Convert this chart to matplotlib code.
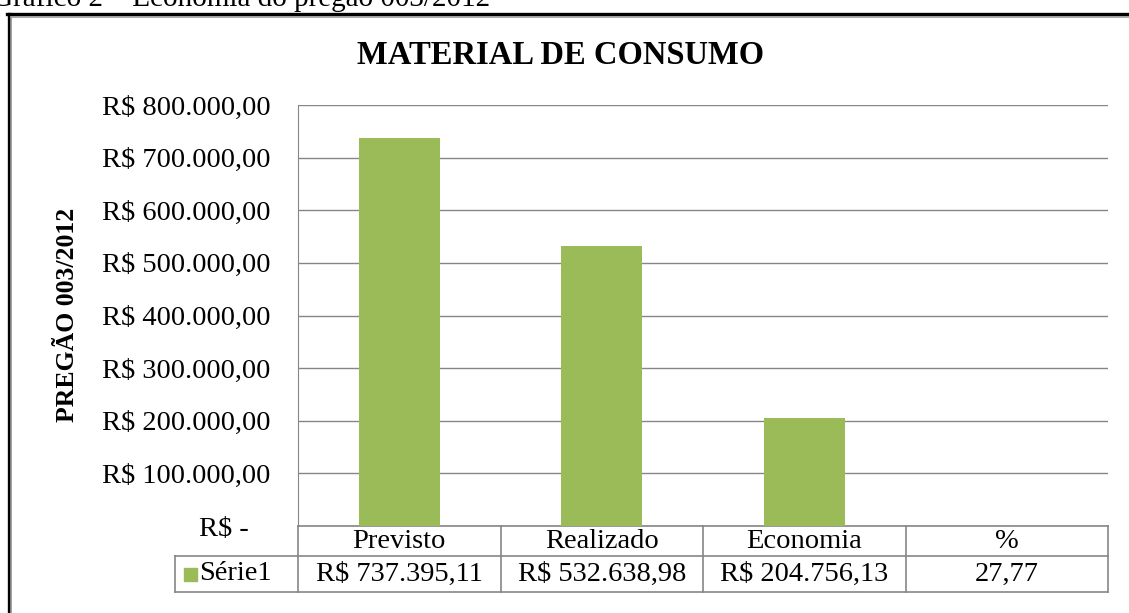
import matplotlib
matplotlib.use('Agg')
import matplotlib.pyplot as plt
from matplotlib.patches import Rectangle
from matplotlib.lines import Line2D

categories = ['Previsto', 'Realizado', 'Economia', '%']
values = [737395.11, 532638.98, 204756.13, 27.77]
series_name = 'Série1'
yticks = [0, 100000, 200000, 300000, 400000, 500000, 600000, 700000, 800000]

green = '#9BBB59'
grid_gray = '#868686'
fs = 20.5
plt.rcParams['font.family'] = ['Liberation Serif', 'DejaVu Serif']


def brl(v):
    if v == 0:
        return 'R$ -   '
    s = f'{v:,.2f}'.replace(',', 'X').replace('.', ',').replace('X', '.')
    return 'R$ ' + s


def cell_text(cat, v):
    if cat == '%':
        return f'{v:.2f}'.replace('.', ',')
    return brl(v)


W, H = 1129, 613
fig = plt.figure(figsize=(W / 100, H / 100), dpi=100)
ax = fig.add_axes([298 / W, 1 - 526 / H, 810 / W, 421 / H])

x = list(range(len(categories)))
ax.bar(x, values, width=0.4, color=green, zorder=3)
ax.set_xlim(-0.5, len(categories) - 0.5)
ax.set_ylim(0, 800000)
ax.set_yticks(yticks)
ax.set_yticklabels([brl(v) for v in yticks], fontsize=fs)
ax.tick_params(axis='y', length=0, pad=20)
ax.set_xticks([])
ax.grid(axis='y', color=grid_gray, linewidth=1, zorder=0)
for side in ['top', 'right', 'bottom']:
    ax.spines[side].set_visible(False)
ax.spines['left'].set_color(grid_gray)

# data table below the plot
r1 = -30 / 421
r2 = -66 / 421
lx = -123 / 810
n = len(categories)
tkw = dict(transform=ax.transAxes, color=grid_gray, linewidth=1.2, clip_on=False)
ax.add_line(Line2D([0, 1], [0, 0], **tkw))
ax.add_line(Line2D([lx, 1], [r1, r1], **tkw))
ax.add_line(Line2D([lx, 1], [r2, r2], **tkw))
ax.add_line(Line2D([lx, lx], [r1, r2], **tkw))
for i in range(n + 1):
    ax.add_line(Line2D([i / n, i / n], [0, r2], **tkw))
for i, (cat, v) in enumerate(zip(categories, values)):
    cx = (i + 0.5) / n
    ax.text(cx, r1 / 2, cat, transform=ax.transAxes, ha='center', va='center', fontsize=fs)
    ax.text(cx, (r1 + r2) / 2, cell_text(cat, v), transform=ax.transAxes,
            ha='center', va='center', fontsize=fs)
ax.add_patch(Rectangle((-114 / 810, (r1 + r2) / 2 - 7 / 421), 13 / 810, 13 / 421,
                       transform=ax.transAxes, color=green, clip_on=False))
ax.text(-99 / 810, (r1 + r2) / 2, series_name, transform=ax.transAxes,
        ha='left', va='center', fontsize=fs)

fig.text(561 / W, 1 - 55 / H, 'MATERIAL DE CONSUMO', ha='center', va='center',
         fontsize=23.5, fontweight='bold')
fig.text(68 / W, 1 - 315 / H, 'PREGÃO 003/2012', ha='center', va='center',
         rotation=90, fontsize=18.5, fontweight='bold')
fig.text(-8 / W, 1 - 6 / H, 'Gráfico 2 – Economia do pregão 003/2012', ha='left',
         va='baseline', fontsize=21)

# outer frame (only top and left edges are inside the picture)
fig.add_artist(Line2D([8.5 / W, 8.5 / W], [0, 1 - 14 / H], transform=fig.transFigure,
                      color='black', linewidth=2.4))
fig.add_artist(Line2D([7 / W, 1], [1 - 14 / H, 1 - 14 / H], transform=fig.transFigure,
                      color='black', linewidth=2.4))
fig.add_artist(Line2D([11 / W, 11 / W], [0, 1 - 16.5 / H], transform=fig.transFigure,
                      color='#999999', linewidth=1.2))
fig.add_artist(Line2D([11 / W, 1], [1 - 16.5 / H, 1 - 16.5 / H], transform=fig.transFigure,
                      color='#999999', linewidth=1.2))

fig.savefig('out.png', dpi=100)
